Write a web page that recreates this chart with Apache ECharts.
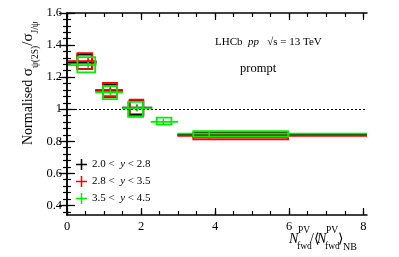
<!DOCTYPE html>
<html><head><meta charset="utf-8">
<script src="https://cdn.jsdelivr.net/npm/echarts@6/dist/echarts.min.js"></script>
<style>html,body{margin:0;padding:0;background:#fff}#c{width:399px;height:257px}</style>
</head><body><div id="c"></div>
<script>
// ---- data ----
const seriesNames = ['2.0 <  y < 2.8', '2.8 <  y < 3.5', '3.5 <  y < 4.5'];
const seriesColors = ['#000000', '#ff0000', '#00ee00'];

// 2.0 < y < 2.8
const blackX    = [0.57, 1.17, 1.89, 3.84];
const blackXLo  = [0.03, 0.76, 1.49, 2.98];
const blackXHi  = [0.80, 1.51, 2.30, 10.0];
const blackY    = [1.29, 1.115, 1.010, 0.840];
const blackStat = [0.008, 0.006, 0.006, 0.004];
const blackBoxLo= [0.28, 0.97, 1.69, 3.41];
const blackBoxHi= [0.68, 1.35, 2.06, 5.97];
const blackSysLo= [1.250, 1.077, 0.967, 0.826];
const blackSysHi= [1.340, 1.154, 1.050, 0.852];

// 2.8 < y < 3.5
const redX    = [0.57, 1.17, 1.89, 3.84];
const redXLo  = [0.03, 0.76, 1.49, 2.98];
const redXHi  = [0.80, 1.51, 2.30, 10.0];
const redY    = [1.300, 1.120, 1.008, 0.834];
const redStat = [0.010, 0.007, 0.006, 0.004];
const redBoxLo= [0.28, 0.97, 1.69, 3.41];
const redBoxHi= [0.68, 1.35, 2.06, 5.97];
const redSysLo= [1.250, 1.081, 0.956, 0.8125];
const redSysHi= [1.350, 1.164, 1.060, 0.848];

// 3.5 < y < 4.5
const greenX    = [0.57, 1.17, 1.89, 2.60, 3.84];
const greenXLo  = [0.03, 0.76, 1.49, 2.26, 2.98];
const greenXHi  = [0.80, 1.51, 2.30, 3.00, 10.0];
const greenY    = [1.275, 1.105, 1.005, 0.921, 0.847];
const greenStat = [0.012, 0.008, 0.007, 0.006, 0.004];
const greenBoxLo= [0.28, 0.97, 1.65, 2.42, 3.41];
const greenBoxHi= [0.76, 1.35, 2.05, 2.82, 5.97];
const greenSysLo= [1.230, 1.063, 0.952, 0.904, 0.827];
const greenSysHi= [1.325, 1.144, 1.046, 0.948, 0.8625];

const xMajorTicks = [0, 2, 4, 6, 8];
const yMajorTicks = [0.4, 0.6, 0.8, 1.0, 1.2, 1.4, 1.6];
const xMin = 0, xMax = 8.1, yMin = 0.34, yMax = 1.6;
const refLine = 1;

// minor tick positions
const xMinorTicks = []; for (let v = 0; v <= 8.0001; v += 0.5) xMinorTicks.push(+v.toFixed(2));
const yMinorTicks = []; for (let v = 0.36; v <= 1.6001; v += 0.04) yMinorTicks.push(+v.toFixed(2));

function rows(x, xl, xh, y, st, b0, b1, s0, s1) {
  return x.map((v, i) => [v, xl[i], xh[i], y[i], y[i] - st[i], y[i] + st[i], b0[i], b1[i], s0[i], s1[i]]);
}
const seriesData = [
  rows(blackX, blackXLo, blackXHi, blackY, blackStat, blackBoxLo, blackBoxHi, blackSysLo, blackSysHi),
  rows(redX, redXLo, redXHi, redY, redStat, redBoxLo, redBoxHi, redSysLo, redSysHi),
  rows(greenX, greenXLo, greenXHi, greenY, greenStat, greenBoxLo, greenBoxHi, greenSysLo, greenSysHi)
];

function makeRender(color) {
  return function (params, api) {
    const xp = api.value(0), xl = api.value(1), xh = api.value(2), y = api.value(3);
    const sl = api.value(4), sh = api.value(5), bx0 = api.value(6), bx1 = api.value(7);
    const yl = api.value(8), yh = api.value(9);
    const p0 = api.coord([bx0, yh]), p1 = api.coord([bx1, yl]);
    const a = api.coord([xl, y]), b = api.coord([xh, y]);
    const c = api.coord([xp, y]);
    const s0 = api.coord([xp, sl]), s1 = api.coord([xp, sh]);
    return {
      type: 'group', children: [
        { type: 'rect', shape: { x: p0[0], y: p0[1], width: p1[0] - p0[0], height: p1[1] - p0[1] },
          style: { fill: 'none', stroke: color, lineWidth: 1.8 } },
        { type: 'line', shape: { x1: a[0], y1: a[1], x2: b[0], y2: b[1] },
          style: { stroke: color, lineWidth: 1.8 } },
        { type: 'line', shape: { x1: c[0], y1: Math.max(s0[1], c[1] + 3), x2: c[0], y2: Math.min(s1[1], c[1] - 3) },
          style: { stroke: color, lineWidth: 1.5 } }
      ]
    };
  };
}

const FONT = 'Liberation Serif';
const crossIcon = 'path://M0,4.3L10,4.3L10,5.7L0,5.7ZM4.3,0L5.7,0L5.7,10L4.3,10Z';

const chart = echarts.init(document.getElementById('c'), null, { renderer: 'canvas' });

function yAxisDef(pos, ticks, len, labels) {
  return {
    type: 'value', min: yMin, max: yMax, position: pos,
    axisLine: { show: labels !== null, lineStyle: { color: '#000', width: 1.5 } },
    axisTick: { show: true, inside: true, length: len, customValues: ticks, lineStyle: { color: '#000', width: 1.2 } },
    axisLabel: labels ? { show: true, customValues: labels, fontFamily: FONT, fontSize: 12.5, color: '#000', margin: 5 } : { show: false },
    splitLine: { show: false }
  };
}
function xAxisDef(pos, ticks, len, labels) {
  return {
    type: 'value', min: xMin, max: xMax, position: pos,
    axisLine: { show: labels !== null, onZero: false, lineStyle: { color: '#000', width: 1.5 } },
    axisTick: { show: true, inside: true, length: len, customValues: ticks, lineStyle: { color: '#000', width: 1.2 } },
    axisLabel: labels ? { show: true, customValues: labels, fontFamily: FONT, fontSize: 12.5, color: '#000', margin: 5 } : { show: false },
    splitLine: { show: false }
  };
}

const option = {
  animation: false,
  backgroundColor: '#fff',
  grid: { left: 67, right: 32, top: 13, bottom: 42, containLabel: false },
  xAxis: [
    xAxisDef('bottom', xMajorTicks, 7, xMajorTicks),
    xAxisDef('bottom', xMinorTicks, 4, null),
    Object.assign(xAxisDef('top', xMajorTicks, 7, false), { axisLabel: { show: false } }),
    xAxisDef('top', xMinorTicks, 4, null)
  ],
  yAxis: [
    yAxisDef('left', yMajorTicks, 8, yMajorTicks),
    yAxisDef('left', yMinorTicks, 4, null),
    Object.assign(yAxisDef('right', yMajorTicks, 8, false), { axisLabel: { show: false } }),
    yAxisDef('right', yMinorTicks, 4, null)
  ],
  legend: {
    orient: 'vertical', left: 76, top: 159, padding: 0, itemGap: 6, itemWidth: 11, itemHeight: 11,
    icon: crossIcon,
    data: seriesNames,
    textStyle: { fontFamily: FONT, fontSize: 11, color: '#000',
      rich: { i: { fontFamily: FONT, fontSize: 11, fontStyle: 'italic', color: '#000' } } },
    formatter: n => n.replace(' y ', ' {i|y} ')
  },
  series: seriesNames.map((name, k) => ({
    name, type: 'custom', xAxisIndex: 0, yAxisIndex: 0, clip: true,
    itemStyle: { color: seriesColors[k] },
    renderItem: makeRender(seriesColors[k]),
    encode: { x: [0, 1, 2, 6, 7], y: [3, 4, 5, 8, 9] },
    data: seriesData[k],
    z: 2 + k,
    markLine: k === 0 ? {
      silent: true, symbol: 'none', label: { show: false },
      lineStyle: { color: '#000', type: [2, 2], width: 1 },
      data: [{ yAxis: refLine }]
    } : undefined
  })),
  graphic: [
    { type: 'text', left: 215, top: 37, style: {
        text: 'LHCb  {i|pp}   √s = 13 TeV', fontFamily: FONT, fontSize: 11, fill: '#000',
        rich: { i: { fontFamily: FONT, fontStyle: 'italic', fontSize: 11, fill: '#000' } } } },
    { type: 'text', left: 240, top: 62, style: { text: 'prompt', fontFamily: FONT, fontSize: 12.5, fill: '#000' } },
    // y axis title (rotated)
    { type: 'text', x: 28, y: 145, rotation: Math.PI / 2, style: {
        text: '{n|Normalised }{s|σ}{sub|ψ(2S)}{s|/σ}{sub|J/ψ}', fontFamily: FONT, fontSize: 14, fill: '#000',
        verticalAlign: 'middle', align: 'left',
        rich: {
          n: { fontFamily: FONT, fontSize: 14, fill: '#000', lineHeight: 16, verticalAlign: 'middle' },
          s: { fontFamily: FONT, fontSize: 15, fill: '#000', lineHeight: 16, verticalAlign: 'middle' },
          sub: { fontFamily: FONT, fontSize: 9.5, fill: '#000', lineHeight: 24, verticalAlign: 'bottom' }
        } } },
    // x axis title
    { type: 'group', children: [
      { type: 'text', x: 289, y: 239, style: { text: 'N', fontFamily: FONT, fontStyle: 'italic', fontSize: 14, fill: '#000', verticalAlign: 'middle' } },
      { type: 'text', x: 298, y: 230.5, style: { text: 'PV', fontFamily: FONT, fontSize: 9.5, fill: '#000', verticalAlign: 'middle' } },
      { type: 'text', x: 297, y: 246.5, style: { text: 'fwd', fontFamily: FONT, fontSize: 9.5, fill: '#000', verticalAlign: 'middle' } },
      { type: 'text', x: 310, y: 239, style: { text: '/⟨', fontFamily: FONT, fontSize: 14, fill: '#000', verticalAlign: 'middle' } },
      { type: 'text', x: 317, y: 239, style: { text: 'N', fontFamily: FONT, fontStyle: 'italic', fontSize: 14, fill: '#000', verticalAlign: 'middle' } },
      { type: 'text', x: 326, y: 230.5, style: { text: 'PV', fontFamily: FONT, fontSize: 9.5, fill: '#000', verticalAlign: 'middle' } },
      { type: 'text', x: 325, y: 246.5, style: { text: 'fwd', fontFamily: FONT, fontSize: 9.5, fill: '#000', verticalAlign: 'middle' } },
      { type: 'text', x: 338, y: 239, style: { text: '⟩', fontFamily: FONT, fontSize: 14, fill: '#000', verticalAlign: 'middle' } },
      { type: 'text', x: 343, y: 247.5, style: { text: 'NB', fontFamily: FONT, fontSize: 10, fill: '#000', verticalAlign: 'middle' } }
    ] }
  ]
};
chart.setOption(option);
</script>
</body></html>
